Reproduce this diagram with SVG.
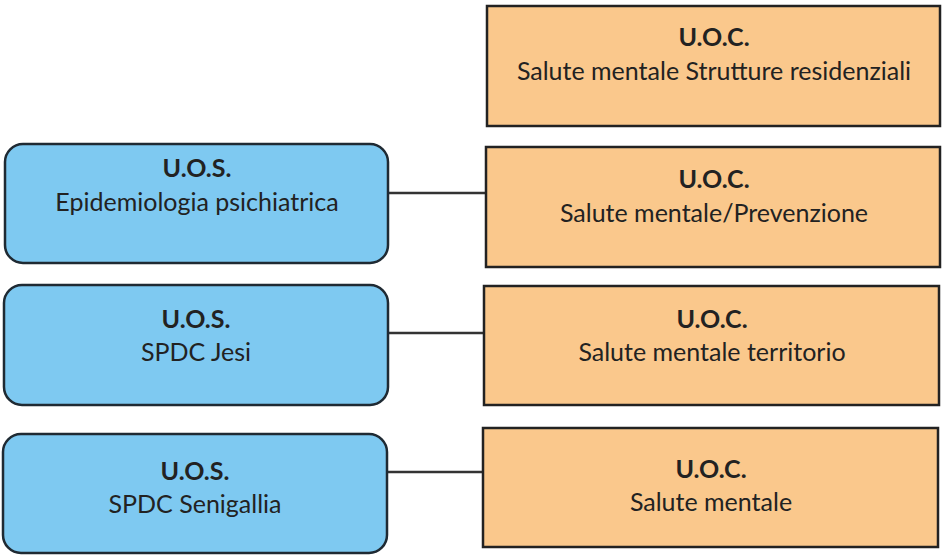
<svg xmlns="http://www.w3.org/2000/svg" width="942" height="555" viewBox="0 0 942 555">
<style>
.uoc rect{fill:#FAC88C;stroke:#222;stroke-width:2.5}
.uos rect{fill:#7EC9F1;stroke:#1f2a33;stroke-width:2.5}
text{font-family:Lato,"Liberation Sans",sans-serif;font-size:25px;fill:#222;text-anchor:middle}
text.b{font-weight:bold}
.conn line{stroke:#333;stroke-width:2.5}
</style>
<rect width="942" height="555" fill="#fff"/>
<g class="conn">
<line x1="388" y1="193" x2="486" y2="193"/>
<line x1="388" y1="333" x2="484" y2="333"/>
<line x1="387" y1="472" x2="483" y2="472"/>
</g>
<g id="uoc1" class="uoc"><rect x="487" y="6" width="453" height="120"/><text class="b" x="714" y="46">U.O.C.</text><text x="714" y="80">Salute mentale Strutture residenziali</text></g>
<g id="uoc2" class="uoc"><rect x="486" y="147" width="454" height="120"/><text class="b" x="714" y="188">U.O.C.</text><text x="714" y="222">Salute mentale/Prevenzione</text></g>
<g id="uoc3" class="uoc"><rect x="484" y="286" width="455" height="119"/><text class="b" x="712" y="328">U.O.C.</text><text x="712" y="361">Salute mentale territorio</text></g>
<g id="uoc4" class="uoc"><rect x="483" y="428" width="455" height="119"/><text class="b" x="711" y="478">U.O.C.</text><text x="711" y="511">Salute mentale</text></g>
<g id="uos1" class="uos"><rect x="5" y="144" width="383" height="119" rx="18"/><text class="b" x="197" y="177">U.O.S.</text><text x="197" y="211">Epidemiologia psichiatrica</text></g>
<g id="uos2" class="uos"><rect x="4" y="285" width="384" height="120" rx="18"/><text class="b" x="196" y="328">U.O.S.</text><text x="196" y="361">SPDC Jesi</text></g>
<g id="uos3" class="uos"><rect x="3" y="434" width="384" height="119" rx="18"/><text class="b" x="195" y="480">U.O.S.</text><text x="195" y="513">SPDC Senigallia</text></g>
</svg>
